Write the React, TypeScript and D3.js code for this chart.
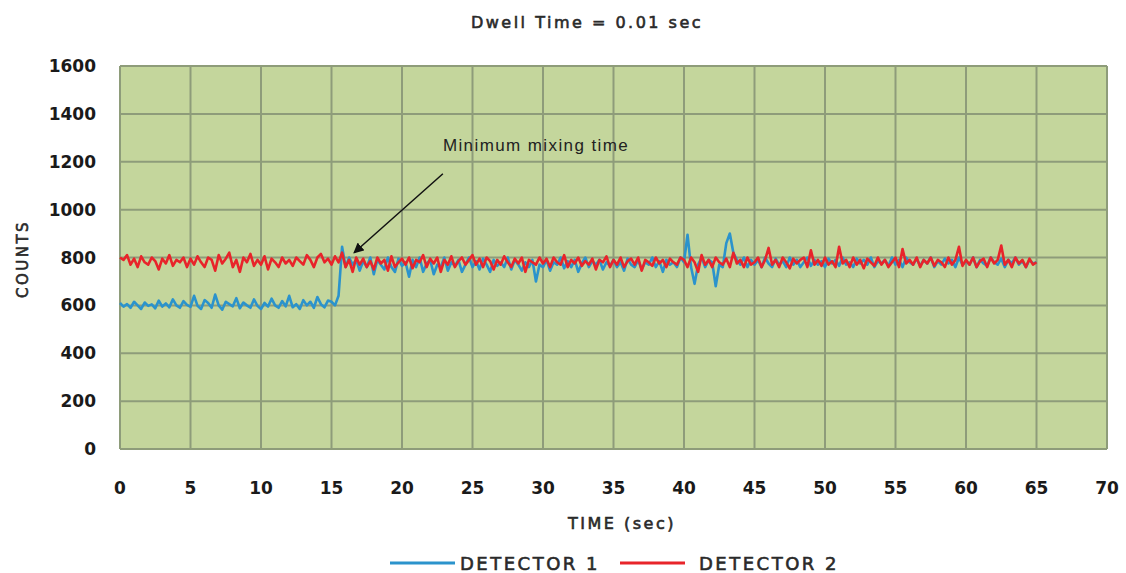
import React from 'react';
import * as d3 from 'd3';

// sampled every 0.25 sec, 0..65 sec
const STEP = 0.25;

const detector1 = [
  610, 595, 605, 590, 615, 600, 585, 612, 598, 604, 588, 620, 595, 608, 592, 625, 600, 590, 618, 602,
  594, 640, 598, 585, 622, 610, 590, 645, 600, 582, 615, 605, 596, 630, 588, 612, 600, 590, 625, 598,
  585, 610, 595, 628, 600, 590, 618, 596, 640, 592, 605, 585, 622, 600, 615, 590, 635, 605, 592, 620,
  615, 600, 640, 845, 760, 800, 770, 790, 745, 785, 760, 800, 730, 790, 770, 750, 800, 760, 740, 795,
  765, 780, 720, 790, 760, 800, 740, 775, 790, 730, 770, 760, 800, 745, 780, 765, 790, 740, 770, 800,
  760, 785, 750, 795, 770, 740, 790, 765, 780, 760, 800, 750, 790, 770, 745, 780, 760, 790, 700, 770,
  760, 790, 745, 780, 770, 800, 755, 785, 760, 790, 740, 775, 800, 760, 785, 770, 790, 750, 780, 765,
  790, 760, 780, 745, 795, 770, 760, 790, 750, 780, 770, 800, 760, 785, 740, 790, 770, 780, 760, 800,
  780, 895, 760, 690, 770, 800, 760, 790, 780, 680, 770, 760, 860, 900, 820, 790, 770, 800, 760, 790,
  770, 790, 760, 800, 775, 760, 795, 770, 785, 760, 800, 770, 790, 760, 780, 800, 765, 790, 770, 785,
  760, 795, 775, 790, 765, 800, 770, 780, 760, 795, 775, 790, 770, 800, 760, 785, 775, 790, 765, 800,
  770, 790, 760, 800, 780, 770, 795, 765, 790, 775, 800, 760, 785, 770, 795, 775, 790, 760, 800, 770,
  785, 770, 800, 760, 790, 775, 765, 800, 780, 770, 795, 760, 790, 775, 800, 770, 785, 760, 790, 775,
  780,
];

const detector2 = [
  800, 790, 810, 770, 795, 760, 805, 780, 770, 800, 785, 750, 795, 775, 810, 765, 790, 780, 800, 760,
  795, 770, 805, 780, 760, 800, 790, 745, 810, 775, 795, 820, 760, 790, 740, 800, 780, 815, 765, 790,
  770, 805, 750, 795, 780, 760, 800, 775, 790, 765, 800, 785, 770, 810, 790, 760, 800, 815, 780, 795,
  770, 805, 780, 820, 760, 790, 740, 800, 770, 795, 760, 785, 750, 800, 775, 790, 745, 805, 760, 780,
  795, 770, 800, 755, 790, 780, 810, 760, 795, 775, 800, 740, 790, 770, 805, 760, 785, 800, 770, 790,
  810, 770, 795, 760, 800, 785, 750, 790, 770, 805, 780, 760, 795, 775, 800, 740, 790, 780, 770, 800,
  775, 795, 760, 800, 780, 770, 810, 760, 790, 775, 800, 765, 785, 770, 795, 750, 790, 780, 805, 760,
  790, 770, 800, 760, 785, 795, 770, 800, 745, 790, 780, 765, 800, 775, 790, 760, 795, 780, 770, 800,
  790, 760, 800, 780, 740, 810, 770, 790, 760, 800, 780, 770, 795, 760, 820, 775, 790, 760, 800, 770,
  780, 800, 760, 790, 840, 770, 790, 760, 800, 780, 755, 795, 775, 790, 800, 760, 830, 770, 790, 765,
  800, 770, 785, 760, 845, 775, 790, 760, 800, 770, 790, 755, 795, 780, 765, 800, 770, 790, 760, 780,
  800, 760, 835, 775, 790, 770, 800, 760, 790, 775, 800, 765, 790, 780, 760, 800, 770, 790, 845, 765,
  790, 770, 800, 760, 785, 795, 760, 800, 775, 790, 850, 770, 790, 760, 800, 775, 790, 760, 795, 770,
  780,
];

const xTicks = [0, 5, 10, 15, 20, 25, 30, 35, 40, 45, 50, 55, 60, 65, 70];
const yTicks = [0, 200, 400, 600, 800, 1000, 1200, 1400, 1600];

const seriesNames = ['DETECTOR 1', 'DETECTOR 2'];
const seriesColors = ['#2b93cc', '#e8242a'];

// annotation in data units: label start, arrow tail, arrow tip
const noteText = 'Minimum mixing time';
const noteLabel = [22.9, 1245];
const noteTail = [22.9, 1150];
const noteTip = [16.6, 820];

const W = 1126;
const H = 573;
const plot = { left: 120, right: 1107, top: 66, bottom: 449 };

export default function App() {
  const x = d3.scaleLinear().domain([0, 70]).range([plot.left, plot.right]);
  const y = d3.scaleLinear().domain([0, 1600]).range([plot.bottom, plot.top]);

  const line = d3
    .line<number>()
    .x((d, i) => x(i * STEP))
    .y((d) => y(d));

  const gridColor = '#8e9c7a';
  const tickFont = { fontFamily: 'DejaVu Sans', fontWeight: 'bold', fontSize: 17, fill: '#1a1a1a' } as const;
  // blurry, letter-spaced labels of the original
  const labelFont = {
    fontFamily: 'DejaVu Sans',
    fill: '#2a2a2a',
    stroke: '#2a2a2a',
    strokeWidth: 0.6,
    letterSpacing: 2.5,
  } as const;

  return (
    <svg width={W} height={H} style={{ position: 'absolute', left: 0, top: 0, background: '#fff' }}>
      <defs>
        <marker id='arrow' viewBox='0 0 10 10' refX='9' refY='5' markerWidth='7' markerHeight='7' orient='auto-start-reverse'>
          <path d='M0,0 L10,5 L0,10 z' fill='#111' />
        </marker>
      </defs>

      <text x={587} y={28} textAnchor='middle' fontSize={16} {...labelFont}>
        Dwell Time = 0.01 sec
      </text>

      <rect x={plot.left} y={plot.top} width={plot.right - plot.left} height={plot.bottom - plot.top} fill='#c4d69c' />

      <g className='grid'>
        {yTicks.map((t) => (
          <line key={'y' + t} x1={plot.left} x2={plot.right} y1={y(t)} y2={y(t)} stroke={gridColor} strokeWidth={2} />
        ))}
        {xTicks.map((t) => (
          <line key={'x' + t} x1={x(t)} x2={x(t)} y1={plot.top} y2={plot.bottom} stroke={gridColor} strokeWidth={2} />
        ))}
      </g>

      <g className='y-axis'>
        {yTicks.map((t) => (
          <text key={t} x={96} y={y(t)} dy='0.36em' textAnchor='end' {...tickFont}>
            {t}
          </text>
        ))}
      </g>
      <g className='x-axis'>
        {xTicks.map((t) => (
          <text key={t} x={x(t)} y={494} textAnchor='middle' {...tickFont}>
            {t}
          </text>
        ))}
      </g>

      <path d={line(detector1) || ''} fill='none' stroke={seriesColors[0]} strokeWidth={2.6} strokeLinejoin='round' />
      <path d={line(detector2) || ''} fill='none' stroke={seriesColors[1]} strokeWidth={2.6} strokeLinejoin='round' />

      <text x={x(noteLabel[0])} y={y(noteLabel[1])} fontFamily='Liberation Sans' fontSize={17} letterSpacing={1.4} fill='#222'>
        {noteText}
      </text>
      <line
        x1={x(noteTail[0])}
        y1={y(noteTail[1])}
        x2={x(noteTip[0])}
        y2={y(noteTip[1])}
        stroke='#111'
        strokeWidth={1.5}
        markerEnd='url(#arrow)'
      />

      <text x={622} y={529} textAnchor='middle' fontSize={16} {...labelFont}>
        TIME (sec)
      </text>
      <text transform={`translate(28,259) rotate(-90)`} textAnchor='middle' fontSize={15} {...labelFont}>
        COUNTS
      </text>

      <g className='legend'>
        <line x1={390} x2={455} y1={563} y2={563} stroke={seriesColors[0]} strokeWidth={3} />
        <text x={460} y={570} fontSize={18} {...labelFont}>
          {seriesNames[0]}
        </text>
        <line x1={620} x2={685} y1={563} y2={563} stroke={seriesColors[1]} strokeWidth={3} />
        <text x={699} y={570} fontSize={18} {...labelFont}>
          {seriesNames[1]}
        </text>
      </g>
    </svg>
  );
}
